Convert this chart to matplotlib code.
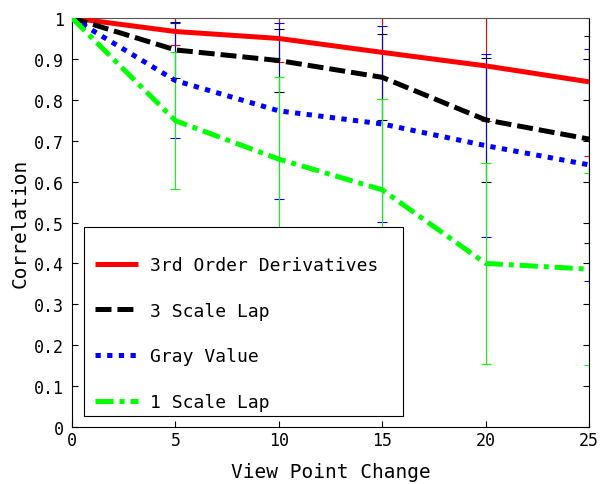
import matplotlib
matplotlib.use("Agg")
import matplotlib.pyplot as plt
from matplotlib.patches import Rectangle
from matplotlib.ticker import FormatStrFormatter

plt.rcParams["font.family"] = ["DejaVu Sans Mono", "DejaVu Sans"]
plt.rcParams["lines.scale_dashes"] = False

# view point change steps
view_change = [0, 5, 10, 15, 20, 25]

deriv3 = [1.0, 0.967, 0.950, 0.916, 0.883, 0.844]
deriv3_err = [0.0, 0.033, 0.057, 0.114, 0.136, 0.182]

lap3 = [1.0, 0.922, 0.896, 0.855, 0.751, 0.704]
lap3_err = [0.0, 0.068, 0.077, 0.105, 0.152, 0.253]

gray = [1.0, 0.847, 0.773, 0.741, 0.688, 0.641]
gray_err = [0.0, 0.140, 0.215, 0.240, 0.224, 0.283]

lap1 = [1.0, 0.749, 0.655, 0.580, 0.400, 0.386]
lap1_err = [0.0, 0.168, 0.200, 0.222, 0.246, 0.235]

series = [
    ("3rd Order Derivatives", deriv3, deriv3_err, "#ff0000", None),
    ("3 Scale Lap", lap3, lap3_err, "#000000", (0, (11.5, 4.3))),
    ("Gray Value", gray, gray_err, "#0000ff", (0, (3.8, 4.6))),
    ("1 Scale Lap", lap1, lap1_err, "#00ff00", (0, (13, 4.3, 3.6, 4.3))),
]

fig = plt.figure(figsize=(6.03, 4.85), dpi=100)
ax = fig.add_axes([0.1194, 0.1175, 0.8574, 0.8433])

# thin error bars underneath
for label, vals, err, color, ls in series:
    ax.errorbar(view_change, vals, yerr=err, fmt="none", ecolor=color,
                elinewidth=0.8, capsize=3.6, capthick=0.8, zorder=2)

handles = []
for label, vals, err, color, ls in series:
    (ln,) = ax.plot(view_change, vals, color=color, linewidth=3.6,
                    linestyle="-" if ls is None else ls,
                    dash_capstyle="butt", solid_capstyle="butt",
                    label=label, zorder=3)
    handles.append(ln)

ax.set_xlim(0, 25)
ax.set_ylim(0, 1)
ax.set_xticks(view_change)
ax.set_yticks([i / 10 for i in range(11)])
ax.yaxis.set_major_formatter(FormatStrFormatter("%g"))
ax.tick_params(direction="in", length=4.5, width=0.8, top=True, right=True,
               labelsize=12)
ax.tick_params(axis="x", pad=3)
ax.tick_params(axis="y", pad=6)
for s in ax.spines.values():
    s.set_linewidth(0.8)
ax.spines["top"].set_color("#555555")

ax.set_xlabel("View Point Change", fontsize=14)
ax.set_ylabel("Correlation", fontsize=14)
ax.xaxis.set_label_coords(0.5, -0.085)
ax.yaxis.set_label_coords(-0.082, 0.5)

# legend box (MATLAB style, extra room at the top)
box = Rectangle((0.0232, 0.0269), 0.617, 0.462, transform=ax.transAxes,
                facecolor="white", edgecolor="black", linewidth=0.8, zorder=4)
ax.add_patch(box)
leg = ax.legend(handles=handles, loc="lower left",
                bbox_to_anchor=(0.035, 0.0269), borderaxespad=0,
                fontsize=13, frameon=False,
                handlelength=2.35, handletextpad=0.7, labelspacing=1.53,
                borderpad=0.28)
leg.set_zorder(5)

fig.savefig("out.png", dpi=100)
